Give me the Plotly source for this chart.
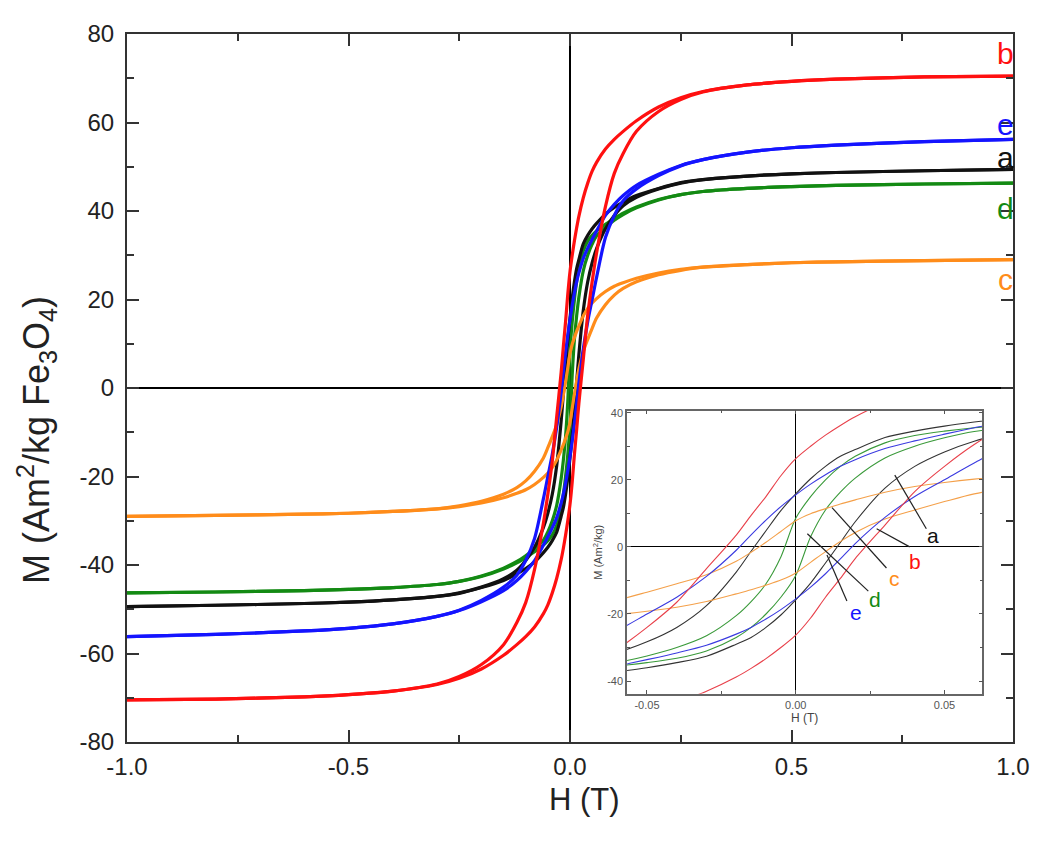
import plotly.graph_objects as go

# ---------------- data ----------------
# field values of the descending branch (from +1 T to -1 T)
H_DESC = [1.0, 0.8, 0.6, 0.5, 0.4, 0.3, 0.25, 0.2, 0.15, 0.12, 0.1, 0.08, 0.06, 0.05, 0.04,
          0.03, 0.02, 0.015, 0.01, 0.005, 0.0, -0.005, -0.01, -0.015, -0.02, -0.03, -0.04,
          -0.05, -0.06, -0.08, -0.1, -0.12, -0.15, -0.2, -0.25, -0.3, -0.4, -0.5, -0.6, -0.8, -1.0]
# field values of the ascending branch (from -1 T to +1 T)
H_ASC = [-1.0, -0.8, -0.6, -0.5, -0.4, -0.3, -0.25, -0.2, -0.15, -0.12, -0.1, -0.08, -0.06, -0.05,
         -0.04, -0.03, -0.02, -0.015, -0.01, -0.005, 0.0, 0.005, 0.01, 0.015, 0.02, 0.03, 0.04,
         0.05, 0.06, 0.08, 0.1, 0.12, 0.15, 0.2, 0.25, 0.3, 0.4, 0.5, 0.6, 0.8, 1.0]

M_A_DESC = [49.4, 49.1, 48.7, 48.4, 47.9, 47.1, 46.4, 45.1, 43.5, 42.0, 40.8, 39.3, 37.2, 36.0, 34.5,
            32.6, 29.0, 27.0, 24.0, 20.3, 15.8, 10.8, 4.8, -1.3, -7.5, -17.5, -24.0,
            -28.3, -31.5, -36.0, -39.0, -41.2, -43.1, -45.0, -46.3, -47.1, -47.9, -48.4, -48.7, -49.1, -49.4]
M_A_ASC = [-49.4, -49.1, -48.7, -48.4, -47.9, -47.1, -46.4, -45.1, -43.5, -42.0, -40.8, -39.3, -37.2, -36.0,
           -34.5, -32.6, -29.0, -27.0, -24.0, -20.3, -15.8, -10.8, -4.8, 1.3, 7.5, 17.5, 24.0,
           28.3, 31.5, 36.0, 39.0, 41.2, 43.1, 45.0, 46.3, 47.1, 47.9, 48.4, 48.7, 49.1, 49.4]

M_B_DESC = [70.5, 70.3, 69.8, 69.3, 68.5, 67.0, 65.6, 63.5, 60.4, 58.0, 56.2, 54.0, 51.0, 49.0, 46.3,
            43.0, 38.8, 36.2, 33.3, 30.0, 26.3, 21.2, 15.0, 9.4, 3.5, -6.5, -16.5,
            -24.0, -30.5, -41.0, -48.5, -53.0, -58.0, -62.5, -65.2, -66.9, -68.5, -69.3, -69.8, -70.3, -70.5]
M_B_ASC = [-70.5, -70.3, -69.8, -69.3, -68.5, -67.0, -65.6, -63.5, -60.4, -58.0, -56.2, -54.0, -51.0, -49.0,
           -46.3, -43.0, -38.8, -36.2, -33.3, -30.0, -26.3, -21.2, -15.0, -9.4, -3.5, 6.5, 16.5,
           24.0, 30.5, 41.0, 48.5, 53.0, 58.0, 62.5, 65.2, 66.9, 68.5, 69.3, 69.8, 70.3, 70.5]

M_C_DESC = [29.0, 28.8, 28.5, 28.3, 27.9, 27.3, 26.8, 26.0, 24.8, 23.8, 23.0, 21.8, 20.2, 19.2, 18.0,
            16.3, 14.0, 12.8, 11.4, 9.9, 7.8, 4.6, 1.4, -1.6, -4.3, -8.3, -11.0,
            -13.5, -15.8, -18.8, -21.0, -22.5, -24.0, -25.6, -26.6, -27.3, -27.9, -28.3, -28.5, -28.8, -29.0]
M_C_ASC = [-29.0, -28.8, -28.5, -28.3, -27.9, -27.3, -26.8, -26.0, -24.8, -23.8, -23.0, -21.8, -20.2, -19.2,
           -18.0, -16.3, -14.0, -12.8, -11.4, -9.9, -7.8, -4.6, -1.4, 1.6, 4.3, 8.3, 11.0,
           13.5, 15.8, 18.8, 21.0, 22.5, 24.0, 25.6, 26.6, 27.3, 27.9, 28.3, 28.5, 28.8, 29.0]

M_D_DESC = [46.3, 46.1, 45.8, 45.5, 45.1, 44.4, 43.7, 42.6, 40.9, 39.5, 38.3, 37.0, 35.5, 34.5, 33.2,
            31.0, 27.0, 24.0, 20.0, 15.0, 8.5, -3.0, -11.0, -16.3, -20.5, -26.5, -30.0,
            -32.5, -34.4, -36.3, -37.9, -39.2, -40.7, -42.5, -43.7, -44.4, -45.1, -45.5, -45.8, -46.1, -46.3]
M_D_ASC = [-46.3, -46.1, -45.8, -45.5, -45.1, -44.4, -43.7, -42.6, -40.9, -39.5, -38.3, -37.0, -35.5, -34.5,
           -33.2, -31.0, -27.0, -24.0, -20.0, -15.0, -8.5, 3.0, 11.0, 16.3, 20.5, 26.5, 30.0,
           32.5, 34.4, 36.3, 37.9, 39.2, 40.7, 42.5, 43.7, 44.4, 45.1, 45.5, 45.8, 46.1, 46.3]

M_E_DESC = [56.2, 55.7, 54.9, 54.3, 53.3, 51.6, 50.3, 48.3, 45.8, 43.5, 41.5, 39.0, 35.5, 33.6, 31.6,
            29.3, 26.0, 24.0, 21.5, 18.7, 15.5, 12.0, 8.0, 3.6, -1.0, -8.8, -15.0,
            -20.0, -25.0, -34.0, -39.0, -42.3, -45.0, -48.0, -50.2, -51.6, -53.3, -54.3, -54.9, -55.7, -56.2]
M_E_ASC = [-56.2, -55.7, -54.9, -54.3, -53.3, -51.6, -50.3, -48.3, -45.8, -43.5, -41.5, -39.0, -35.5, -33.6,
           -31.6, -29.3, -26.0, -24.0, -21.5, -18.7, -15.5, -12.0, -8.0, -3.6, 1.0, 8.8, 15.0,
           20.0, 25.0, 34.0, 39.0, 42.3, 45.0, 48.0, 50.2, 51.6, 53.3, 54.3, 54.9, 55.7, 56.2]

SAMPLES = ["a", "b", "c", "d", "e"]
COLORS = {"a": "#111111", "b": "#ff1010", "c": "#ff8c1a", "d": "#138a13", "e": "#1414ff"}
INSET_COLORS = {"a": "#333333", "b": "#e8404a", "c": "#f4a04a", "d": "#3a9a3a", "e": "#3a3ae0"}
BRANCHES = {
    "a": (M_A_DESC, M_A_ASC), "b": (M_B_DESC, M_B_ASC), "c": (M_C_DESC, M_C_ASC),
    "d": (M_D_DESC, M_D_ASC), "e": (M_E_DESC, M_E_ASC),
}
DRAW_ORDER = ["d", "a", "c", "e", "b"]

# main axis ticks
X_TICKS = [-1.0, -0.5, 0.0, 0.5, 1.0]
X_TICKTEXT = ["-1.0", "-0.5", "0.0", "0.5", "1.0"]
X_MINOR = [-0.75, -0.25, 0.25, 0.75]
Y_TICKS = [-80, -60, -40, -20, 0, 20, 40, 60, 80]
Y_TICKTEXT = ["-80", "-60", "-40", "-20", "0", "20", "40", "60", "80"]
Y_MINOR = [-70, -50, -30, -10, 10, 30, 50, 70]
# inset ticks
X2_TICKS = [-0.05, 0.0, 0.05]
X2_TICKTEXT = ["-0.05", "0.00", "0.05"]
X2_MINOR = [-0.025, 0.025]
Y2_TICKS = [-40, -20, 0, 20, 40]
Y2_TICKTEXT = ["-40", "-20", "0", "20", "40"]
Y2_MINOR = [-30, -10, 10, 30]

# curve labels on the main plot (H, M)
MAIN_LABELS = {"b": (0.984, 75.5), "e": (0.984, 59.5), "a": (0.984, 52.0), "d": (0.984, 40.5), "c": (0.984, 24.5)}
# inset labels (H, M) and pointer lines (H0, M0, H1, M1)
INSET_LABELS = {"a": (0.0462, 3.5), "b": (0.0400, -4.4), "c": (0.0333, -9.3), "d": (0.0267, -15.6), "e": (0.0203, -19.5)}
INSET_POINTERS = {
    "a": (0.0439, 5.4, 0.0333, 21.4),
    "b": (0.0383, 0.0, 0.0272, 5.4),
    "c": (0.0305, -6.3, 0.0122, 11.7),
    "d": (0.0244, -13.2, 0.0039, 3.9),
    "e": (0.0172, -16.1, 0.0105, -2.4),
}

FONT = "Liberation Sans, Arial, sans-serif"

fig = go.Figure()

for s in DRAW_ORDER:
    desc, asc = BRANCHES[s]
    for hx, my in ((H_DESC, desc), (H_ASC, asc)):
        fig.add_trace(go.Scatter(x=hx, y=my, mode="lines", xaxis="x", yaxis="y",
                                 line=dict(color=COLORS[s], width=3.2, shape="spline", smoothing=0.8),
                                 hoverinfo="skip", showlegend=False))
for s in DRAW_ORDER:
    desc, asc = BRANCHES[s]
    for hx, my in ((H_DESC, desc), (H_ASC, asc)):
        fig.add_trace(go.Scatter(x=hx, y=my, mode="lines", xaxis="x2", yaxis="y2",
                                 line=dict(color=INSET_COLORS[s], width=1.1, shape="spline", smoothing=0.8),
                                 hoverinfo="skip", showlegend=False))

annotations = []
for s, (hx, my) in MAIN_LABELS.items():
    annotations.append(dict(x=hx, y=my, xref="x", yref="y", text=s, showarrow=False,
                            font=dict(family=FONT, size=30, color=COLORS[s]), xanchor="center", yanchor="middle"))
for s, (hx, my) in INSET_LABELS.items():
    annotations.append(dict(x=hx, y=my, xref="x2", yref="y2", text=s, showarrow=False,
                            font=dict(family=FONT, size=21, color=COLORS[s]), xanchor="center", yanchor="middle"))
# axis titles as free texts
annotations.append(dict(x=-0.102, y=0.426, xref="paper", yref="paper", showarrow=False, textangle=-90,
                        text="M (Am<sup>2</sup>/kg Fe<sub>3</sub>O<sub>4</sub>)",
                        font=dict(family=FONT, size=36, color="#222222"), xanchor="center", yanchor="middle"))
annotations.append(dict(x=0.516, y=-0.081, xref="paper", yref="paper", showarrow=False,
                        text="H (T)", font=dict(family=FONT, size=31, color="#222222"),
                        xanchor="center", yanchor="middle"))

shapes = []
for s, (h0, m0, h1, m1) in INSET_POINTERS.items():
    shapes.append(dict(type="line", xref="x2", yref="y2", x0=h0, y0=m0, x1=h1, y1=m1,
                       line=dict(color="#222222", width=1.2)))

axis_common = dict(showgrid=False, showline=True, mirror="allticks", ticks="inside",
                   zeroline=True, zerolinecolor="#000000")

fig.update_layout(
    width=1034, height=831,
    margin=dict(l=119, r=22, t=14, b=97),
    paper_bgcolor="white", plot_bgcolor="white",
    showlegend=False,
    annotations=annotations,
    shapes=shapes,
    xaxis=dict(**axis_common, range=[-1.0, 1.0], domain=[0, 1], anchor="y",
               tickvals=X_TICKS, ticktext=X_TICKTEXT, ticklen=12, tickwidth=2,
               tickcolor="#333333", linecolor="#333333", linewidth=2, zerolinewidth=2,
               minor=dict(ticks="inside", ticklen=7, tickwidth=2, tickcolor="#333333", tickvals=X_MINOR),
               tickfont=dict(family=FONT, size=24, color="#222222"), ticklabelstandoff=2),
    yaxis=dict(**axis_common, range=[-80, 80], domain=[0, 1], anchor="x",
               tickvals=Y_TICKS, ticktext=Y_TICKTEXT, ticklen=12, tickwidth=2,
               tickcolor="#333333", linecolor="#333333", linewidth=2, zerolinewidth=2,
               minor=dict(ticks="inside", ticklen=7, tickwidth=2, tickcolor="#333333", tickvals=Y_MINOR),
               tickfont=dict(family=FONT, size=24, color="#222222"), ticklabelstandoff=6),
    xaxis2=dict(**axis_common, range=[-0.0567, 0.0627], domain=[0.5644, 0.9653], anchor="y2",
                tickvals=X2_TICKS, ticktext=X2_TICKTEXT, ticklen=4, tickwidth=1,
                tickcolor="#555555", linecolor="#666666", linewidth=1.5, zerolinewidth=1.2,
                minor=dict(ticks="inside", ticklen=3, tickwidth=1, tickcolor="#555555", tickvals=X2_MINOR),
                tickfont=dict(family=FONT, size=11, color="#555555"),
                title=dict(text="H (T)", font=dict(family=FONT, size=12, color="#444444"), standoff=2)),
    yaxis2=dict(**axis_common, range=[-43.8, 40.6], domain=[0.068, 0.468], anchor="x2",
                tickvals=Y2_TICKS, ticktext=Y2_TICKTEXT, ticklen=4, tickwidth=1,
                tickcolor="#555555", linecolor="#666666", linewidth=1.5, zerolinewidth=1.2,
                minor=dict(ticks="inside", ticklen=3, tickwidth=1, tickcolor="#555555", tickvals=Y2_MINOR),
                tickfont=dict(family=FONT, size=11, color="#555555"),
                title=dict(text="M (Am<sup>2</sup>/kg)", font=dict(family=FONT, size=11, color="#444444"), standoff=2)),
)

fig.write_html("out.html")
